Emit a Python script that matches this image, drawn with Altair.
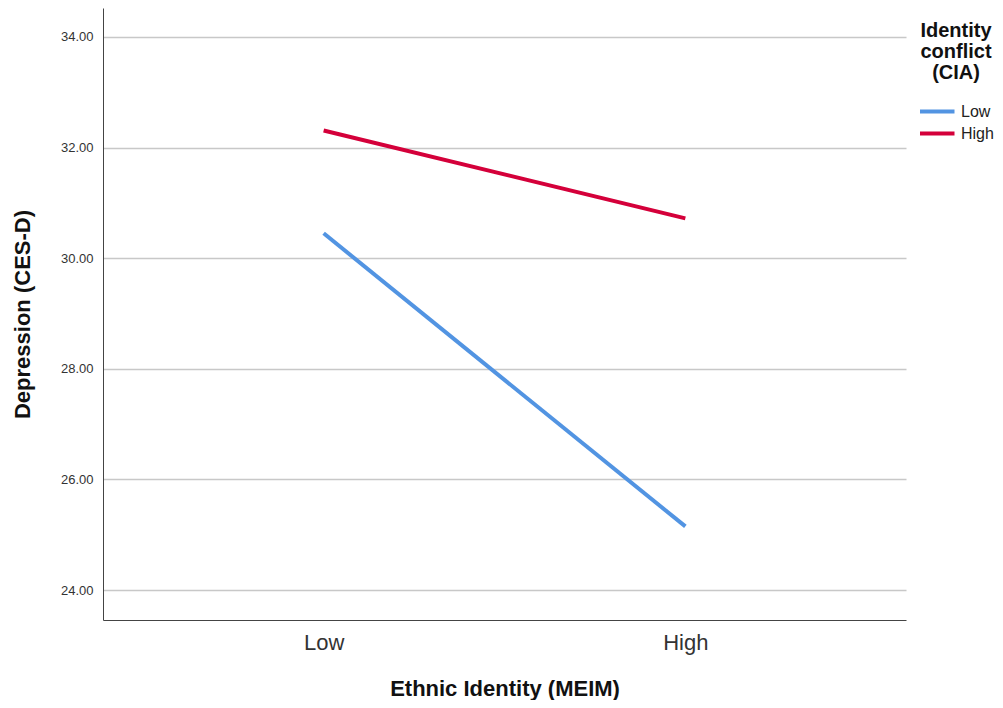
import altair as alt
import pandas as pd

meim_levels = ["Low", "High"]
cia_levels = ["Low", "High"]
depression_low_cia = [30.45, 25.15]
depression_high_cia = [32.31, 30.72]
y_ticks = [24, 26, 28, 30, 32, 34]

rows = []
for m, v in zip(meim_levels, depression_low_cia):
    rows.append({"MEIM": m, "CIA": "Low", "Depression": v})
for m, v in zip(meim_levels, depression_high_cia):
    rows.append({"MEIM": m, "CIA": "High", "Depression": v})
df = pd.DataFrame(rows)

FONT = "Liberation Sans"

chart = alt.Chart(df).mark_line(strokeWidth=4).encode(
    x=alt.X("MEIM:N", sort=meim_levels,
            scale=alt.Scale(type="point", padding=0.61),
            axis=alt.Axis(title="Ethnic Identity (MEIM)", labelAngle=0,
                          labelFontSize=22, labelColor="#333333",
                          labelPadding=12, ticks=False, grid=False,
                          domainColor="#444444", domainWidth=1,
                          titleFontSize=22, titleFontWeight="bold",
                          titleColor="#111111", titlePadding=25,
                          labelFont=FONT, titleFont=FONT)),
    y=alt.Y("Depression:Q",
            scale=alt.Scale(domain=[23.458, 34.524], nice=False, zero=False),
            axis=alt.Axis(title="Depression (CES-D)", values=y_ticks,
                          format=".2f", labelFontSize=13, labelColor="#333333",
                          labelPadding=10, ticks=False, grid=True,
                          gridColor="#c8c8c8", gridWidth=1.5,
                          domainColor="#444444", domainWidth=1,
                          titleFontSize=22, titleFontWeight="bold",
                          titleColor="#111111", titlePadding=26,
                          labelFont=FONT, titleFont=FONT)),
    color=alt.Color("CIA:N", sort=cia_levels,
                    scale=alt.Scale(domain=cia_levels, range=["#5294E2", "#D4003A"]),
                    legend=alt.Legend(title=["Identity", "conflict", "(CIA)"],
                                      orient="none", legendX=815, legendY=13,
                                      titleFontSize=20, titleFontWeight="bold",
                                      titleColor="#111111", titleAlign="center",
                                      titleAnchor="middle", titleLineHeight=21,
                                      titleFont=FONT, titlePadding=15,
                                      labelFont=FONT, labelFontSize=16,
                                      labelColor="#222222",
                                      symbolType="M-1,0L2,0", symbolSize=529,
                                      symbolStrokeWidth=4, symbolOffset=0,
                                      labelOffset=16, rowPadding=0)),
).properties(
    width=803, height=612,
    padding={"left": 95, "top": 0, "right": 89, "bottom": 80},
    autosize=alt.AutoSizeParams(type="none"),
).configure_view(stroke=None)

chart.save("out.html", embed_options={"renderer": "svg", "actions": False})
